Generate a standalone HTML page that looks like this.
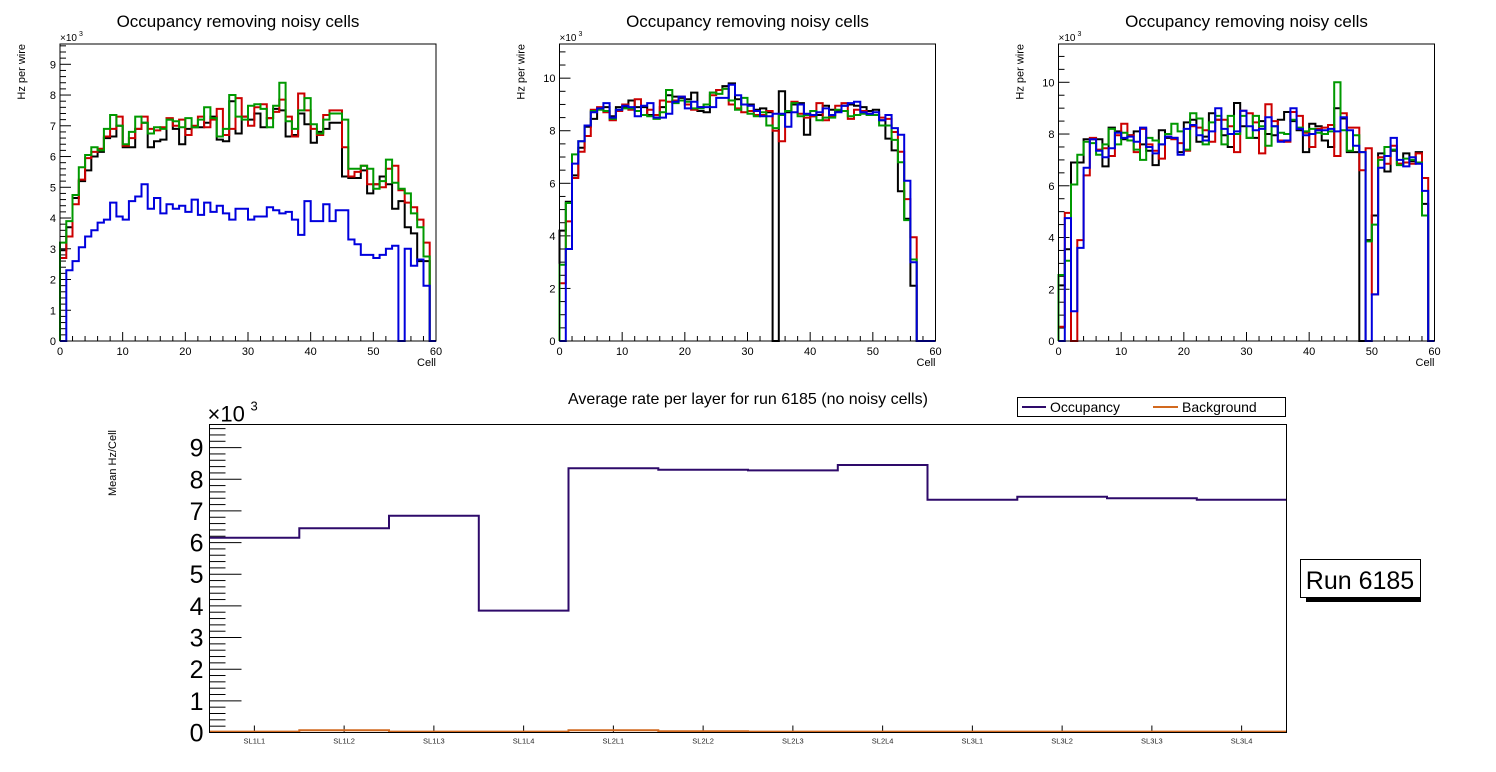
<!DOCTYPE html>
<html><head><meta charset="utf-8">
<style>
html,body{margin:0;padding:0;background:#fff;}
svg{display:block;font-family:"Liberation Sans",Arial,sans-serif;}
</style></head>
<body>
<svg id="c" width="1496" height="772" viewBox="0 0 1496 772" xmlns="http://www.w3.org/2000/svg"></svg>
<script>
const NS="http://www.w3.org/2000/svg";
const svg=document.getElementById('c');
// ---------- data ----------
const p1Black=[2.95,3.7,4.65,5.2,5.55,6.0,6.15,6.6,6.65,7.0,
6.3,6.3,6.9,7.1,6.3,6.5,6.55,7.2,6.9,6.4,
6.9,6.95,6.95,7.1,7.3,6.55,6.5,7.8,6.75,7.3,
7.2,7.4,6.95,7.25,7.55,7.5,6.65,6.7,7.4,7.05,
6.45,6.8,6.9,7.1,7.1,5.35,5.3,5.3,5.55,4.8,
5.1,5.35,5.1,4.3,4.55,3.7,3.5,2.6,2.6,0];
const p1Red=[2.7,3.4,4.45,5.25,5.95,6.15,6.25,6.65,6.9,7.3,
6.35,6.6,6.9,7.3,6.9,6.85,6.95,7.25,7.0,7.2,
6.7,7.0,7.3,6.95,7.2,7.55,6.7,6.9,7.9,7.3,
7.0,7.6,7.7,7.25,7.45,7.85,7.3,6.65,8.05,7.5,
6.9,6.7,7.35,7.5,7.5,6.3,5.35,5.5,5.7,5.1,
5.1,5.0,5.6,5.7,4.9,4.5,4.35,3.95,3.2,0];
const p1Green=[3.2,3.9,4.75,5.65,6.05,6.3,6.2,6.9,7.35,7.0,
6.4,6.8,7.3,7.1,6.75,6.95,6.9,7.2,7.15,6.95,
7.25,6.95,7.2,7.6,7.25,6.65,6.9,8.0,7.3,7.2,
7.65,7.7,7.55,6.95,7.65,8.4,7.15,6.9,7.5,7.9,
7.05,6.75,7.2,7.4,7.4,7.2,5.6,5.6,5.7,5.6,
4.95,5.2,5.9,5.15,4.95,4.8,4.15,3.7,2.75,0];
const p1Blue=[0,2.3,2.6,3.05,3.4,3.6,3.85,3.95,4.5,4.05,
3.95,4.55,4.7,5.1,4.3,4.65,4.15,4.45,4.3,4.4,
4.2,4.6,4.1,4.5,4.2,4.4,4.15,3.95,4.3,4.3,
3.95,4.05,4.05,4.35,4.25,4.15,4.2,3.95,3.45,4.55,
3.9,3.9,4.45,3.9,4.25,4.25,3.3,3.15,2.8,2.8,
2.7,2.8,3.0,3.1,0,3.0,2.45,2.65,1.8,0];
const p2Black=[4.2,5.3,6.3,7.35,8.15,8.45,8.85,8.9,8.55,8.9,
8.9,9.15,8.9,8.9,8.6,8.5,8.9,9.35,9.3,9.25,
9.2,9.45,8.75,8.7,9.45,9.55,9.7,9.8,9.2,9.0,
9.0,8.8,8.85,8.7,0,9.5,8.7,9.0,9.05,7.85,
8.55,8.6,8.95,8.8,8.75,8.95,9.0,8.95,8.9,8.75,
8.8,8.4,7.7,7.25,5.7,4.65,2.1,0,0,0];
const p2Red=[2.2,4.55,6.2,7.2,7.8,8.8,8.9,8.7,8.4,8.75,
9.0,8.8,9.2,8.6,8.8,8.6,9.15,9.1,9.15,9.3,
9.0,8.8,8.9,9.0,9.35,9.55,9.6,9.0,8.85,8.7,
8.75,8.6,8.6,8.75,8.0,7.6,8.75,9.1,8.65,8.5,
8.55,9.05,8.4,8.55,8.95,9.05,8.45,8.8,8.75,8.65,
8.6,8.5,8.45,7.95,7.2,5.4,3.95,0,0,0];
const p2Green=[2.9,5.25,7.1,7.6,8.2,8.75,8.8,8.75,8.45,8.8,
8.85,8.85,8.75,8.6,8.55,8.45,8.7,9.55,9.05,9.15,
9.1,8.85,8.85,9.0,9.45,9.4,9.6,9.15,8.8,9.25,
8.65,8.55,8.7,8.2,8.1,8.6,8.75,9.05,8.55,8.6,
8.75,8.4,8.5,8.5,8.8,8.75,8.55,8.6,8.65,8.6,
8.6,8.2,8.2,7.65,6.8,4.6,3.1,0,0,0];
const p2Blue=[0,3.5,6.75,7.6,8.2,8.7,8.85,9.05,8.5,8.8,
8.95,8.9,8.55,8.95,9.05,8.5,8.5,8.65,9.1,9.3,
8.85,9.1,8.9,8.9,8.9,9.25,9.25,9.75,9.35,9.0,
8.95,8.75,8.55,8.55,8.65,8.65,8.15,8.7,9.0,8.65,
8.6,8.7,8.85,8.6,8.7,8.95,9.05,9.1,8.7,8.65,
8.7,8.4,8.6,8.1,7.85,6.1,3.0,0,0,0];
const p3Black=[2.15,3.55,6.9,6.9,7.8,7.8,7.8,6.75,8.25,8.1,
7.8,7.95,8.1,7.6,7.35,6.8,8.15,7.85,7.85,7.3,
8.45,8.55,7.7,7.9,8.8,8.55,7.95,7.5,9.2,8.3,
7.85,7.85,8.5,8.0,7.95,8.55,8.85,8.5,8.15,7.3,
8.4,8.3,7.75,7.5,9.0,8.6,7.3,7.3,0,3.9,
4.85,7.25,6.55,7.35,6.85,7.25,6.95,7.3,5.3,0];
const p3Red=[0.55,4.95,0,3.9,6.4,7.85,7.4,7.45,7.15,7.95,
8.4,7.95,7.3,8.2,7.6,7.35,7.05,7.9,7.8,7.65,
7.35,8.3,8.25,8.15,7.7,8.55,8.55,8.3,7.3,8.9,
8.8,8.45,7.25,9.15,8.5,7.75,7.7,8.85,8.7,8.05,
7.5,8.2,8.25,8.35,7.15,8.8,8.25,8.25,6.6,7.45,
1.8,7.1,6.85,7.55,6.85,6.9,6.85,7.25,6.3,0];
const p3Green=[2.55,3.1,6.05,7.2,7.7,7.65,7.2,7.6,8.2,7.6,
8.05,7.75,7.4,7.0,7.85,7.75,7.6,8.0,8.4,8.1,
7.4,8.8,8.6,7.6,8.45,8.7,7.6,8.7,8.0,8.7,
7.85,8.7,8.3,7.55,8.3,8.05,8.0,8.55,8.25,8.1,
8.2,8.05,8.0,8.1,10.0,8.15,7.35,7.95,7.3,3.85,
4.5,7.0,7.5,7.4,6.8,7.05,7.0,6.9,4.85,0];
const p3Blue=[0,4.75,1.15,3.6,6.7,7.8,7.35,7.1,7.45,8.05,
7.85,7.9,7.7,8.25,7.5,7.25,7.6,7.9,7.85,7.2,
8.2,8.35,7.95,7.75,8.1,9.0,8.2,8.0,8.1,8.9,
8.3,8.15,8.2,8.65,8.3,7.7,7.75,9.0,8.2,7.95,
8.0,8.15,8.15,8.2,8.1,8.65,8.15,7.55,7.3,0,
1.8,6.7,7.15,7.85,7.0,6.75,7.1,6.85,5.8,0];
const layerLabels=["SL1L1","SL1L2","SL1L3","SL1L4","SL2L1","SL2L2","SL2L3","SL2L4","SL3L1","SL3L2","SL3L3","SL3L4"];
const occupancy=[6.15,6.45,6.85,3.85,8.35,8.3,8.28,8.45,7.35,7.45,7.4,7.35];
const background=[0.03,0.07,0.03,0.03,0.07,0.04,0.03,0.03,0.03,0.03,0.03,0.03];
const panelXTicks=[0,10,20,30,40,50,60];

function el(tag,attrs,parent){const e=document.createElementNS(NS,tag);for(const k in attrs)e.setAttribute(k,attrs[k]);(parent||svg).appendChild(e);return e;}
function txt(s,attrs,parent){const e=el('text',attrs,parent);e.textContent=s;return e;}

function stepPath(vals,xs,ys,x0,binW,closeEnds){
  let d='M'+x0.toFixed(1)+','+(closeEnds?ys(0):ys(vals[0])).toFixed(1);
  vals.forEach((v,i)=>{d+=' V'+ys(v).toFixed(1)+' H'+xs(x0,binW,i+1).toFixed(1);});
  if(closeEnds) d+=' V'+ys(0).toFixed(1);
  return d;
}

function panel(idx,L,R,T,B,ymax,major,nminor,yTickVals,series){
  const g=el('g',{});
  
  
  const ys=v=>B-(v/ymax)*(B-T);
  const xv=v=>L+(v/60)*(R-L);
  const cx=(L+R)/2;
  const t=txt('Occupancy removing noisy cells',{x:cx-(idx==1?10:0),y:27,'font-size':17,'text-anchor':'middle',fill:'#000'},g);
  
  const minorStep=major/nminor;
  for(let v=0;v<=ymax+1e-9;v+=minorStep){
    const isMaj=Math.abs(v/major-Math.round(v/major))<1e-6;
    el('line',{x1:L,x2:L+(isMaj?11:6),y1:ys(v),y2:ys(v),stroke:'#000','stroke-width':1},g);
  }
  yTickVals.forEach(v=>{const tl=txt(String(v),{x:L-4,y:ys(v)+4,'font-size':11,'text-anchor':'end'},g);
    });
  for(let v=0;v<=60;v+=2){const isMaj=v%10==0;
    el('line',{x1:xv(v),x2:xv(v),y1:B,y2:B-(isMaj?9:5),stroke:'#000','stroke-width':1},g);}
  panelXTicks.forEach(v=>{const tl=txt(String(v),{x:xv(v),y:B+14,'font-size':11,'text-anchor':'middle'},g);
    });
  const xl=txt('Cell',{x:R,y:B+25,'font-size':11,'text-anchor':'end'},g);
  
  const yl=txt('Hz per wire',{x:0,y:0,'font-size':11,'text-anchor':'end',transform:`translate(${L-35},${T}) rotate(-90)`},g);
  
  const ex=txt('\u00d710',{x:L,y:T-3,'font-size':10},g);
  
  txt('3',{x:L+19,y:T-8,'font-size':7},g);
  const binW=(R-L)/60;
  const xs=(x0,w,i)=>x0+w*i;
  const cols=['#000000','#cc0000','#009900','#0000dd'];
  const names=['series-black','series-red','series-green','series-blue'];
  series.forEach((s,k)=>{
    const p=el('path',{d:stepPath(s,xs,ys,L,binW,true),fill:'none',stroke:cols[k],'stroke-width':2,'stroke-linejoin':'miter'},g);
    
  });
  el('rect',{x:L,y:T,width:R-L,height:B-T,fill:'none',stroke:'#000','stroke-width':1},g);
}
panel(1,60,436,44,341,9.66,1,5,[0,1,2,3,4,5,6,7,8,9],[p1Black,p1Red,p1Green,p1Blue]);
panel(2,559.5,935.5,44,341,11.3,2,4,[0,2,4,6,8,10],[p2Black,p2Red,p2Green,p2Blue]);
panel(3,1058.5,1434.5,44,341,11.48,2,4,[0,2,4,6,8,10],[p3Black,p3Red,p3Green,p3Blue]);

// ---------- bottom chart ----------
(function(){
  const L=209.5,R=1286.5,T=424.5,B=732.5,ymax=9.73;
  const g=el('g',{});
  
  
  const ys=v=>B-(v/ymax)*(B-T);
  const n=layerLabels.length;const bw=(R-L)/n;
  const tt=txt('Average rate per layer for run 6185 (no noisy cells)',{x:748,y:404,'font-size':16,'text-anchor':'middle'},g);
  
  for(let v=0;v<=ymax+1e-9;v+=0.2){const isMaj=Math.abs(v-Math.round(v))<1e-6;
    el('line',{x1:L,x2:L+(isMaj?32:16),y1:ys(v),y2:ys(v),stroke:'#000','stroke-width':1},g);}
  for(let v=0;v<=9;v++){const tl=txt(String(v),{x:L-6,y:ys(v)+9,'font-size':25,'text-anchor':'end'},g);
    }
  const ex=txt('\u00d710',{x:L-2,y:T-3,'font-size':22},g);
  
  txt('3',{x:L+41,y:T-14,'font-size':13},g);
  const yl=txt('Mean Hz/Cell',{x:0,y:0,'font-size':11,'text-anchor':'middle',transform:`translate(116,463) rotate(-90)`},g);
  
  layerLabels.forEach((lab,i)=>{const x=L+bw*(i+0.5);
    el('line',{x1:x,x2:x,y1:B,y2:B-7,stroke:'#000','stroke-width':1},g);
    const tl=txt(lab,{x:x,y:B+11,'font-size':7.5,'text-anchor':'middle',fill:'#222'},g);
    });
  const xs=(x0,w,i)=>x0+w*i;
  const bg=el('path',{d:stepPath(background,xs,ys,L,bw,false),fill:'none',stroke:'#d2691e','stroke-width':2},g);
  
  const oc=el('path',{d:stepPath(occupancy,xs,ys,L,bw,false),fill:'none',stroke:'#2e0a6a','stroke-width':2},g);
  
  el('rect',{x:L,y:T,width:R-L,height:B-T,fill:'none',stroke:'#000','stroke-width':1},g);
  const lg=el('g',{},g);
  
  el('rect',{x:1017.5,y:397.5,width:268,height:19,fill:'#fff',stroke:'#000','stroke-width':1},lg);
  el('line',{x1:1022,x2:1046,y1:407,y2:407,stroke:'#2e0a6a','stroke-width':2},lg);
  const l1=txt('Occupancy',{x:1050,y:412,'font-size':14},lg);
  
  el('line',{x1:1153,x2:1178,y1:407,y2:407,stroke:'#d2691e','stroke-width':2},lg);
  const l2=txt('Background',{x:1182,y:412,'font-size':14},lg);
  
  const rb=el('g',{});
  
  el('rect',{x:1306,y:597,width:115,height:5,fill:'#000'},rb);
  el('rect',{x:1300.5,y:559.5,width:120,height:38,fill:'#fff',stroke:'#000','stroke-width':1},rb);
  txt('Run 6185',{x:1360,y:589,'font-size':25,'text-anchor':'middle'},rb);
})();
</script>
</body></html>
